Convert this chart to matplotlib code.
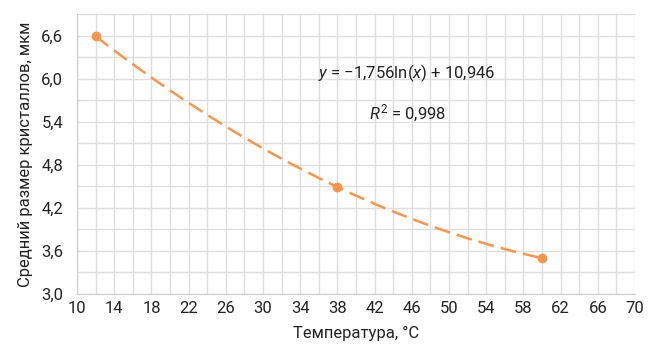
import matplotlib
matplotlib.use("Agg")
import matplotlib.pyplot as plt
from matplotlib import font_manager as fm
from matplotlib.ticker import FuncFormatter, MultipleLocator
import numpy as np

# переменные шрифты Roboto[wdth,wght] дают узкое начертание — убираем их
fm.fontManager.ttflist = [f for f in fm.fontManager.ttflist if "[" not in f.fname]

# измеренные точки
temperature = [12, 38, 60]
crystal_size = [6.59, 4.49, 3.50]

x_ticks = list(range(10, 71, 4))
equation_text = r"$\mathit{y}$ = −1,756ln($\mathit{x}$) + 10,946"
r2_text = r"$\mathit{R}^2$ = 0,998"

ORANGE = "#f7964a"
GRID = "#dedede"
TEXT = "#222222"

plt.rcParams["font.family"] = ["Roboto", "DejaVu Sans"]
plt.rcParams["mathtext.fontset"] = "custom"
plt.rcParams["mathtext.it"] = "Roboto:italic"
plt.rcParams["mathtext.rm"] = "Roboto"

fig = plt.figure(figsize=(6.55, 3.46), dpi=100)
ax = fig.add_axes([77 / 655, 1 - 294 / 346, (635 - 77) / 655, (294 - 14) / 346])

# сглаженная линия тренда через точки
coef = np.polyfit(temperature, crystal_size, 2)
xs = np.linspace(temperature[0], temperature[-1], 200)
ax.plot(xs, np.polyval(coef, xs), color=ORANGE, linewidth=1.8,
        dashes=(6.4, 2.8), zorder=3)
ax.plot(temperature, crystal_size, "o", color=ORANGE, markersize=6, zorder=4)

ax.set_xlim(10, 70)
ax.set_ylim(3.0, 6.9)
ax.set_xticks(x_ticks)
ax.xaxis.set_minor_locator(MultipleLocator(2))
ax.yaxis.set_major_locator(MultipleLocator(0.6))
ax.yaxis.set_minor_locator(MultipleLocator(0.3))
ax.yaxis.set_major_formatter(FuncFormatter(lambda v, _: f"{v:.1f}".replace(".", ",")))
ax.grid(which="both", color=GRID, linewidth=1.0)
ax.set_axisbelow(True)
ax.tick_params(which="both", length=0, labelsize=12, colors=TEXT)
ax.tick_params(axis="x", pad=5)
ax.tick_params(axis="y", pad=10)
for side in ("top", "right"):
    ax.spines[side].set_visible(False)
for side in ("left", "bottom"):
    ax.spines[side].set_color("#cccccc")

ax.text(45.5, 6.08, equation_text, ha="center", va="center", fontsize=12, color=TEXT)
ax.text(45.5, 5.52, r2_text, ha="center", va="center", fontsize=12, color=TEXT)

ax.set_xlabel("Температура, °C", fontsize=12, color=TEXT, labelpad=7)
ax.set_ylabel("Средний размер кристаллов, мкм", fontsize=12, color=TEXT, labelpad=6)

fig.savefig("out.png", dpi=100)
